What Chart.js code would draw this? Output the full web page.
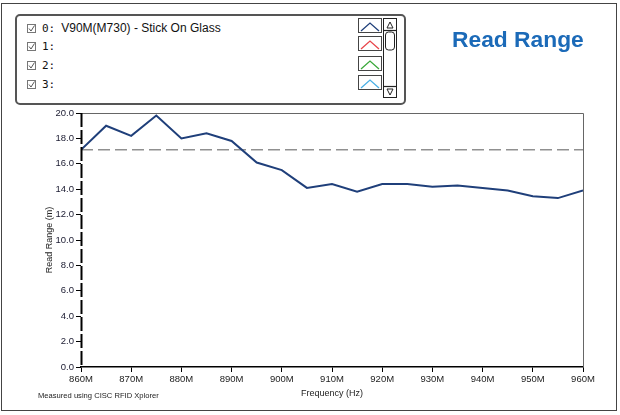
<!DOCTYPE html>
<html>
<head>
<meta charset="utf-8">
<script src="https://cdn.jsdelivr.net/npm/chart.js@4"></script>
<style>
  body { margin: 0; background: #fff; font-family: "Liberation Sans", Arial, sans-serif; }
  #wrap { position: relative; width: 620px; height: 415px; }
  #frame { position: absolute; left: 1px; top: 3px; width: 614px; height: 406px; border: 1.5px solid #444; }
  #legend { position: absolute; left: 15px; top: 14px; width: 387px; height: 87px; border: 2px solid #555; border-radius: 5px; background: #fff; }
  .row { position: absolute; left: 10px; height: 14px; font-size: 12px; line-height: 14px; color: #111; white-space: nowrap; }
  .chk { display: inline-block; width: 7px; height: 7px; border: 1px solid #777; position: relative; vertical-align: -1px; margin-right: 6px; }
  .chk svg { position: absolute; left: 0; top: 0; }
  .idx { font-family: "DejaVu Sans Mono", monospace; font-size: 11px; margin-right: 6px; }
  .icon { position: absolute; left: 341px; width: 22px; height: 13px; border: 1px solid #444; }
  #scroll { position: absolute; left: 366px; top: 2px; width: 12px; height: 78px; border: 1.5px solid #222; }
  #title { position: absolute; left: 452px; top: 28px; font-size: 22.8px; line-height: 1; font-weight: bold; color: #1b6ab8; }
  #footer { position: absolute; left: 38px; top: 391px; font-size: 7.6px; color: #222; }
  canvas { position: absolute; left: 0; top: 0; }
</style>
</head>
<body>
<div id="wrap">
  <canvas id="chart" width="620" height="415"></canvas>
  <div id="frame"></div>
  <div id="legend"></div>
  <div id="title">Read Range</div>
  <div id="footer">Measured using CISC RFID Xplorer</div>
</div>
<script>
// data
const frequencies = [860, 865, 870, 875, 880, 885, 890, 895, 900, 905, 910,
                     915, 920, 925, 930, 935, 940, 945, 950, 955, 960];
const readRange = [17.1, 19.0, 18.2, 19.8, 18.0, 18.4, 17.8, 16.1, 15.5, 14.1, 14.4,
                   13.8, 14.4, 14.4, 14.2, 14.3, 14.1, 13.9, 13.45, 13.3, 13.9];
const referenceLevel = 17.1;
const seriesNames = ['V90M(M730) - Stick On Glass', '', '', ''];
const seriesColors = ['#1f3f7a', '#e8454a', '#3aa83a', '#4ab0e6'];

// legend box (LabVIEW style)
function buildLegend() {
  const legend = document.getElementById('legend');
  const rowTops = [5, 23, 42, 61];
  seriesNames.forEach((name, i) => {
    const row = document.createElement('div');
    row.className = 'row';
    row.style.top = rowTops[i] + 'px';
    row.innerHTML = '<span class="chk"><svg width="7" height="7"><polyline points="1,3.5 3,6 6.5,0.5" fill="none" stroke="#555" stroke-width="1"/></svg></span>' +
      '<span class="idx">' + i + ':</span>' + name;
    legend.appendChild(row);

    const icon = document.createElement('div');
    icon.className = 'icon';
    icon.style.top = [2, 20, 40, 59][i] + 'px';
    icon.innerHTML = '<svg width="22" height="13"><polyline points="2,11 11,3 20,11" fill="none" stroke="' + seriesColors[i] + '" stroke-width="1.3"/></svg>';
    legend.appendChild(icon);
  });

  const scroll = document.createElement('div');
  scroll.id = 'scroll';
  scroll.innerHTML = '<svg width="12" height="78">' +
    '<polygon points="3,9 6,3 9,9" fill="none" stroke="#222" stroke-width="1"/>' +
    '<line x1="0" y1="11.5" x2="12" y2="11.5" stroke="#222" stroke-width="1.2"/>' +
    '<rect x="1.5" y="13" width="9" height="18" rx="3" fill="#fff" stroke="#222" stroke-width="1"/>' +
    '<line x1="0" y1="67.5" x2="12" y2="67.5" stroke="#222" stroke-width="1.2"/>' +
    '<polygon points="3,70 9,70 6,76" fill="none" stroke="#222" stroke-width="1"/>' +
    '</svg>';
  legend.appendChild(scroll);
}
buildLegend();

// top and right edges of the plot area, dashed left edge (cursor-like)
const plotFrame = {
  id: 'plotFrame',
  afterDraw(chart) {
    const { ctx, chartArea } = chart;
    ctx.save();
    ctx.strokeStyle = '#666';
    ctx.lineWidth = 1;
    ctx.beginPath();
    ctx.moveTo(chartArea.left, chartArea.top + 0.5);
    ctx.lineTo(chartArea.right + 0.5, chartArea.top + 0.5);
    ctx.lineTo(chartArea.right + 0.5, chartArea.bottom);
    ctx.stroke();

    ctx.strokeStyle = '#000';
    ctx.lineWidth = 2;
    ctx.setLineDash([14, 3]);
    ctx.beginPath();
    ctx.moveTo(chartArea.left + 0.5, chartArea.top);
    ctx.lineTo(chartArea.left + 0.5, chartArea.bottom);
    ctx.stroke();
    ctx.restore();
  }
};

const ctx = document.getElementById('chart').getContext('2d');
const tickFont = { family: '"Liberation Sans", Arial, sans-serif', size: 9.5 };
const titleFont = { family: '"Liberation Sans", Arial, sans-serif', size: 9 };

new Chart(ctx, {
  type: 'line',
  data: {
    datasets: [
      {
        label: 'Read Range',
        data: frequencies.map((f, i) => ({ x: f, y: readRange[i] })),
        borderColor: '#1f3f7a',
        borderWidth: 2,
        pointRadius: 0,
        tension: 0,
        order: 1
      },
      {
        label: 'Reference',
        data: [{ x: frequencies[0], y: referenceLevel }, { x: frequencies[frequencies.length - 1], y: referenceLevel }],
        borderColor: '#5a5a5a',
        borderWidth: 1,
        borderDash: [12, 5],
        pointRadius: 0,
        order: 2
      }
    ]
  },
  options: {
    responsive: false,
    animation: false,
    layout: { padding: { left: 40, top: 113, right: 37, bottom: 12 } },
    plugins: { legend: { display: false }, tooltip: { enabled: false } },
    scales: {
      x: {
        type: 'linear',
        min: 860,
        max: 960,
        afterFit(scale) { scale.height = 36; },
        ticks: { stepSize: 10, color: '#222', font: tickFont, padding: 2, maxRotation: 0,
                 callback: v => v + 'M' },
        grid: { drawOnChartArea: false, color: '#000', tickLength: 5 },
        border: { color: '#000', width: 1.5 },
        title: { display: true, text: 'Frequency (Hz)', color: '#222', font: titleFont, padding: { top: 2, bottom: 4 } }
      },
      y: {
        min: 0,
        max: 20,
        afterFit(scale) { scale.width = 41; },
        ticks: { stepSize: 2, color: '#1a1a30', font: tickFont, padding: 2,
                 callback: v => v.toFixed(1) },
        grid: { drawOnChartArea: false, color: '#000', tickLength: 5 },
        border: { display: false },
        title: { display: true, text: 'Read Range (m)', color: '#222', font: titleFont, padding: { top: 4, bottom: 2 } }
      }
    }
  },
  plugins: [plotFrame]
});
</script>
</body>
</html>
